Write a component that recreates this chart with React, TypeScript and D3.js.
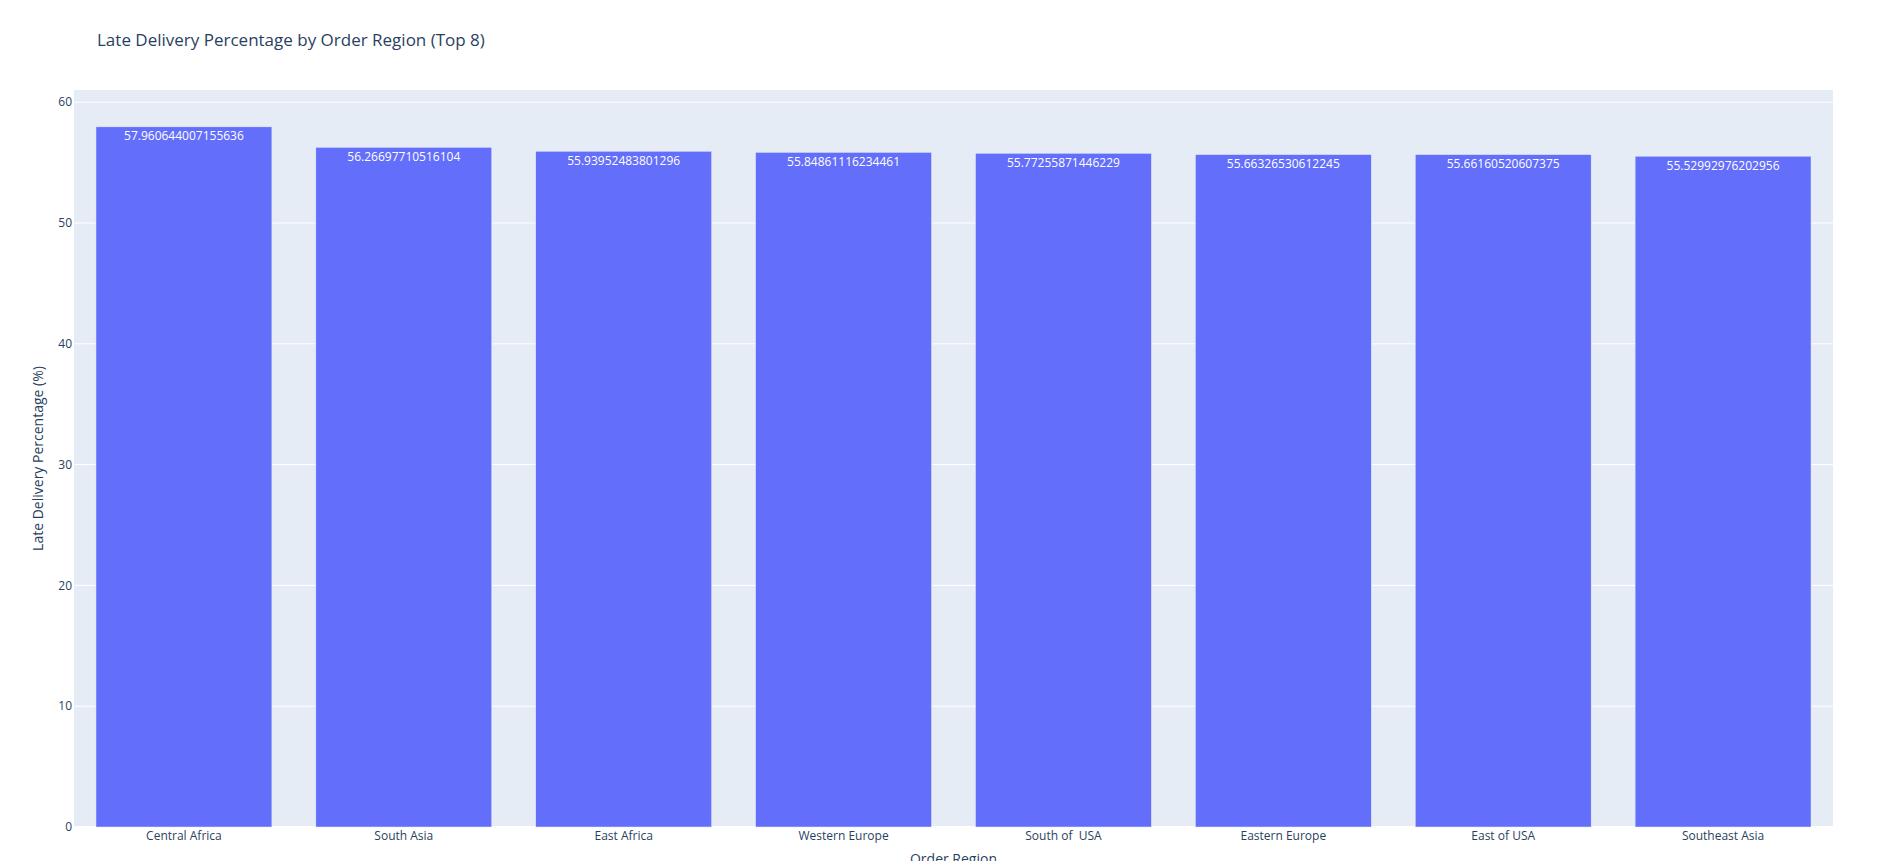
import * as d3 from 'd3'

const regions = [
  'Central Africa',
  'South Asia',
  'East Africa',
  'Western Europe',
  'South of  USA',
  'Eastern Europe',
  'East of USA',
  'Southeast Asia'
]

const latePct = [
  57.960644007155636,
  56.26697710516104,
  55.93952483801296,
  55.84861116234461,
  55.77255871446229,
  55.66326530612245,
  55.66160520607375,
  55.52992976202956
]

const yTicks = [0, 10, 20, 30, 40, 50, 60]

const W = 1904
const H = 861
const plot = { left: 74, right: 1833, top: 90, bottom: 827 }
const font = '"Open Sans", verdana, arial, sans-serif'
const ink = '#2a3f5f'

export default function App() {
  const x = d3.scaleBand()
    .domain(regions)
    .range([plot.left, plot.right])
    .paddingInner(0.2)
    .paddingOuter(0.1)

  const y = d3.scaleLinear()
    .domain([0, (d3.max(latePct) as number) / 0.95])
    .range([plot.bottom, plot.top])

  return (
    <svg
      width={W}
      height={H}
      style={{ position: 'absolute', left: 0, top: 0, background: '#fff' }}
      fontFamily={font}
    >
      {/* plot background */}
      <rect
        x={plot.left}
        y={plot.top}
        width={plot.right - plot.left}
        height={plot.bottom - plot.top}
        fill="#E5ECF6"
      />

      {/* grid */}
      {yTicks.map(t => (
        <line
          key={t}
          x1={plot.left}
          x2={plot.right}
          y1={y(t)}
          y2={y(t)}
          stroke="#fff"
          strokeWidth={t === 0 ? 2 : 1}
        />
      ))}

      {/* bars */}
      {regions.map((r, i) => (
        <g key={r}>
          <rect
            x={x(r)}
            y={y(latePct[i])}
            width={x.bandwidth()}
            height={y(0) - y(latePct[i])}
            fill="#636efa"
            stroke="#E5ECF6"
            strokeWidth={0.5}
          />
          <text
            x={(x(r) as number) + x.bandwidth() / 2}
            y={y(latePct[i]) + 13.5}
            textAnchor="middle"
            fontSize={12}
            fill="#fff"
          >
            {String(latePct[i])}
          </text>
        </g>
      ))}

      {/* y tick labels */}
      {yTicks.map(t => (
        <text
          key={t}
          x={plot.left - 2}
          y={y(t)}
          dy="0.35em"
          textAnchor="end"
          fontSize={12}
          fill={ink}
        >
          {t}
        </text>
      ))}

      {/* x tick labels */}
      {regions.map(r => (
        <text
          key={r}
          x={(x(r) as number) + x.bandwidth() / 2}
          y={plot.bottom + 13}
          textAnchor="middle"
          fontSize={12}
          fill={ink}
          style={{ whiteSpace: 'pre' }}
        >
          {r}
        </text>
      ))}

      {/* axis titles */}
      <text
        transform={`translate(43,${(plot.top + plot.bottom) / 2}) rotate(-90)`}
        textAnchor="middle"
        fontSize={14}
        fill={ink}
      >
        Late Delivery Percentage (%)
      </text>
      <text
        x={(plot.left + plot.right) / 2}
        y={864}
        textAnchor="middle"
        fontSize={14}
        fill={ink}
      >
        Order Region
      </text>

      <text x={97} y={46} fontSize={17} fill={ink}>
        Late Delivery Percentage by Order Region (Top 8)
      </text>
    </svg>
  )
}
